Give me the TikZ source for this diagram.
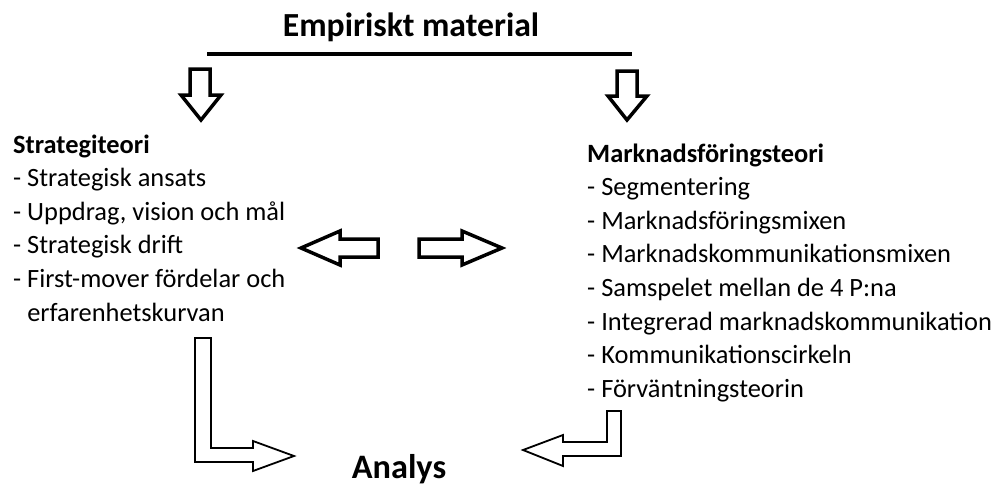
\documentclass[tikz,border=0pt]{standalone}
\usepackage{fontspec}
\setmainfont{Carlito}
\begin{document}
\begin{tikzpicture}[x=1pt,y=-1pt,
  blockarrow/.style={draw=black,line width=3.5pt,line join=miter,fill=white},
  thinarrow/.style={draw=black,line width=1.8pt,line join=miter,fill=white},
  title/.style={font=\fontsize{33.7}{40}\selectfont\bfseries,inner sep=0pt},
  listtext/.style={font=\fontsize{26.4}{33.6}\selectfont,inner sep=0pt,anchor=base west},
]
\useasboundingbox (0,0) rectangle (1000,487);

% heading and the bar beneath it
\node[title,anchor=base] (emp) at (411,37) {Empiriskt material};
\draw[line width=4pt] (207,54) -- (632,54);

% arrows down from the bar to each theory column
\draw[blockarrow] (190,69) -- (210,69) -- (210,95) -- (221,95) -- (201,120)
  -- (181,95) -- (190,95) -- cycle;
\draw[blockarrow] (617,71) -- (637,71) -- (637,96) -- (647,96) -- (627,120)
  -- (608,96) -- (617,96) -- cycle;

% strategy theory column
\node[listtext] (strat) at (13,153) {\begin{tabular}[t]{@{}l@{}}
\textbf{Strategiteori}\\
- Strategisk ansats\\
- Uppdrag, vision och mål\\
- Strategisk drift\\
- First-mover fördelar och\\
\hphantom{- }erfarenhetskurvan
\end{tabular}};

% marketing theory column
\node[listtext] (mark) at (587,162) {\begin{tabular}[t]{@{}l@{}}
\textbf{Marknadsföringsteori}\\
- Segmentering\\
- Marknadsföringsmixen\\
- Marknadskommunikationsmixen\\
- Samspelet mellan de 4 P:na\\
- Integrerad marknadskommunikation\\
- Kommunikationscirkeln\\
- Förväntningsteorin
\end{tabular}};

% two-way exchange between the columns
\draw[blockarrow] (301,248) -- (340,231) -- (340,239) -- (378,239) -- (378,257)
  -- (340,257) -- (340,265) -- cycle;
\draw[blockarrow] (419,239) -- (462,239) -- (462,231) -- (502,248) -- (462,265)
  -- (462,257) -- (419,257) -- cycle;

% bent arrows leading into the analysis
\draw[thinarrow] (195,338) -- (211,338) -- (211,448) -- (253,448) -- (253,441)
  -- (294,456) -- (253,471) -- (253,462) -- (195,462) -- cycle;
\draw[thinarrow] (607,411) -- (621,411) -- (621,456) -- (563,456) -- (563,466)
  -- (523,450) -- (563,435) -- (563,442) -- (607,442) -- cycle;

\node[title,font=\fontsize{34.3}{40}\selectfont\bfseries,anchor=base] (analys) at (399,478) {Analys};
\end{tikzpicture}
\end{document}
